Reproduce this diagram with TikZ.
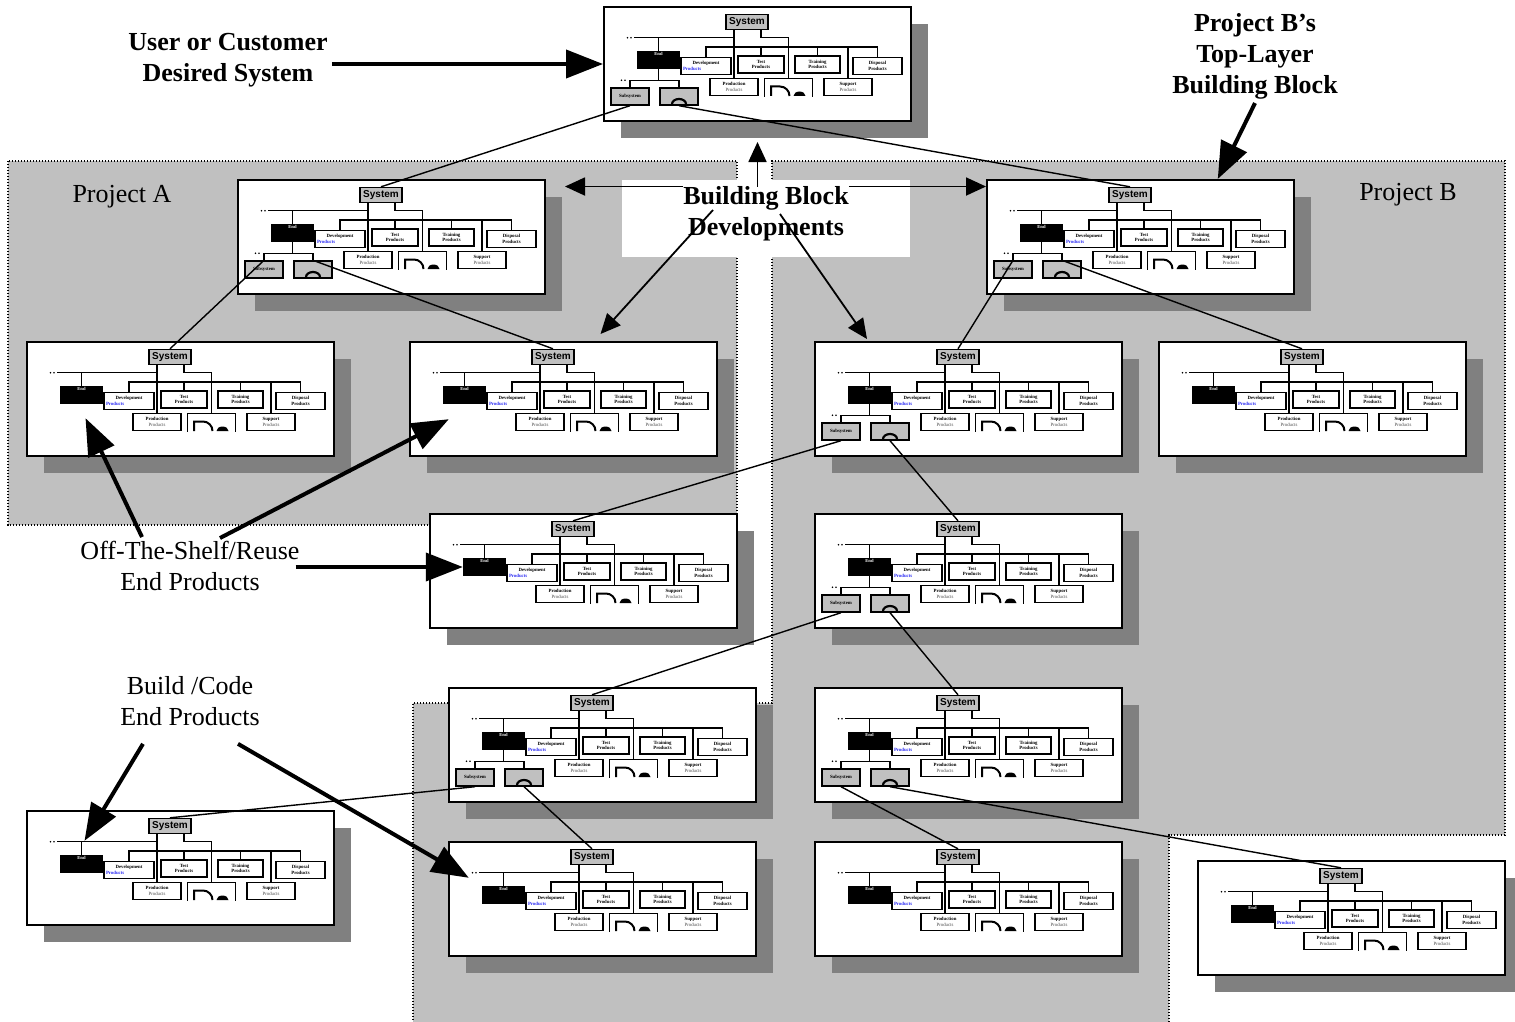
\documentclass[tikz,border=0pt]{standalone}
\usepackage{fontspec}
\setmainfont{Liberation Serif}
\newfontfamily\sysfont{Liberation Sans}
\usepackage{tikz}
\usetikzlibrary{arrows.meta,calc}
\usepackage{xcolor}
\definecolor{regionGray}{HTML}{C0C0C0}
\definecolor{shadowGray}{HTML}{808080}
\definecolor{prodBlue}{HTML}{2A2AF5}

% one building block: name, left, top, subsystems shown (1/0)
\newcommand{\bblock}[4]{%
  \begin{scope}[shift={(#2,#3)}]
    \fill[shadowGray] (17,17) rectangle (324,131);
    \node[bbframe] (#1) at (153.5,57) {};
    \node[sysbox] (#1-sys) at (143,15) {System};
    \node[endbox, label={[endlbl]north:End}] (#1-end) at (54.5,53) {};
    \node[pbox, minimum width=50] (#1-dev) at (102,59)
         {Development\\\makebox[46pt][l]{\color{prodBlue}Products}};
    \node[pbox, minimum width=46] (#1-test) at (157,57.5) {Test\\Products};
    \node[pbox, minimum width=45] (#1-train) at (213.5,57.5) {Training\\Products};
    \node[pbox, minimum width=49] (#1-disp) at (273.5,59) {Disposal\\Products};
    \node[pbox, minimum width=48] (#1-prod) at (130,80)
         {Production\\{\mdseries\color{black!70}Products}};
    \node[pbox, minimum width=48] (#1-supp) at (244,80)
         {Support\\{\mdseries\color{black!70}Products}};
    \node[pbox, draw=none, minimum width=47] (#1-dbox) at (184.5,80.5) {};
    \draw[line width=1.4] (#1-dbox.south west) |- (#1-dbox.north east) -- (#1-dbox.south east);
    \draw[line width=2] (167,89) -- (167,79.5) -- (176,79.5)
         arc[start angle=270, end angle=360, radius=9.5];
    \fill (189.5,89) arc[start angle=180, end angle=360, x radius=6, y radius=4.5] -- cycle;
    % tree lines
    \coordinate (#1-mb) at (30,30.7);
    \coordinate (#1-pb) at (150,40);
    \fill (23.5,30.7) circle (0.9) (27,30.7) circle (0.9);
    \draw[treeline] (#1-mb) -- (#1-mb -| #1-prod.north);
    \draw[treeline] (#1-prod.north |- #1-sys.south) -- (#1-prod.north);
    \draw[treeline] (#1-test.north |- #1-sys.south) |- (#1-mb -| #1-dbox.north) -- (#1-dbox.north);
    \draw[treeline] (#1-end.north) -- (#1-end.north |- #1-mb);
    \draw[treeline] (#1-dev.north) |- (#1-pb) -| (#1-disp.north);
    \foreach \bx in {test,train,supp}
      \draw[treeline] (#1-\bx.north) -- (#1-\bx.north |- #1-pb);
    \ifnum#4=1
      \node[subbox] (#1-sub) at (26,89.5) {Subsystem};
      \node[subbox] (#1-arc) at (75,89.5) {};
      \coordinate (#1-sb) at (50,73.3);
      \fill (17.5,73.3) circle (0.9) (21,73.3) circle (0.9);
      \draw[treeline] (#1-end.south) -- (#1-end.south |- #1-sb);
      \draw[treeline] (#1-sub.north) |- (#1-sb) -| (#1-arc.north);
      \draw[line width=2.2] (68,97) arc[start angle=180, end angle=360, x radius=7, y radius=5];
    \fi
  \end{scope}}

\begin{document}
\begin{tikzpicture}[x=1pt, y=-1pt,
    bbframe/.style={draw, line width=2, fill=white, minimum width=307,
                    minimum height=114, inner sep=0},
    sysbox/.style={draw, line width=1.4, fill=regionGray, minimum width=42,
                   minimum height=15, inner sep=0,
                   font=\sysfont\fontsize{10}{11}\selectfont\bfseries},
    endbox/.style={fill=black, minimum width=43, minimum height=18, inner sep=0},
    endlbl/.style={anchor=north, text=white, inner sep=1.5,
                   font=\fontsize{4.6}{5}\selectfont\bfseries},
    pbox/.style={draw, line width=1.4, fill=white, minimum height=17, inner sep=0,
                 align=center, font=\fontsize{4.8}{5.6}\selectfont\bfseries},
    subbox/.style={draw, line width=1.4, fill=regionGray, minimum width=38,
                   minimum height=17, inner sep=0,
                   font=\fontsize{4.8}{5}\selectfont\bfseries},
    treeline/.style={line width=1.3},
    bblink/.style={line width=1.4},
    area/.style={line width=1.3, dash pattern=on 1.3pt off 1.7pt},
    lbl/.style={font=\fontsize{26}{31}\selectfont, align=center, inner sep=0},
    boldlbl/.style={lbl, font=\fontsize{26}{31}\selectfont\bfseries},
    calloutarrow/.style={line width=4, -{Triangle[length=37pt,width=28pt]}},
    bbarrow/.style={line width=1.8, -{Triangle[length=20pt,width=18pt]}}]

  \useasboundingbox (0,0) rectangle (1515,1022);

  % project areas
  \fill[regionGray] (8,161) rectangle (737,525);
  \fill[regionGray] (772,161) -- (1505,161) -- (1505,835) -- (1169,835)
        -- (1169,1022) -- (413,1022) -- (413,703) -- (772,703) -- cycle;
  \draw[area] (8,161) rectangle (737,525);
  \draw[area] (1169,1022) -- (1169,835) -- (1505,835) -- (1505,161)
        -- (772,161) -- (772,703) -- (413,703) -- (413,1022);
  \fill[white] (622,180) rectangle (910,257);

  % building blocks
  \bblock{T}{604}{7}{1}
  \bblock{A1}{238}{180}{1}
  \bblock{A2}{27}{342}{0}
  \bblock{A3}{410}{342}{0}
  \bblock{B1}{987}{180}{1}
  \bblock{B2}{815}{342}{1}
  \bblock{B3}{1159}{342}{0}
  \bblock{M1}{430}{514}{0}
  \bblock{B4}{815}{514}{1}
  \bblock{C1}{449}{688}{1}
  \bblock{B5}{815}{688}{1}
  \bblock{L1}{27}{811}{0}
  \bblock{C2}{449}{842}{0}
  \bblock{B6}{815}{842}{0}
  \bblock{R1}{1198}{861}{0}

  % subsystem -> next layer
  \draw[bblink] (T-sub.south) -- (A1-sys.north);
  \draw[bblink] (T-arc.south) -- (B1-sys.north);
  \draw[bblink] (A1-sub.north) -- (A2-sys.north);
  \draw[bblink] (A1-arc.north) -- (A3-sys.north);
  \draw[bblink] (B1-sub.north) -- (B2-sys.north);
  \draw[bblink] (B1-arc.north) -- (B3-sys.north);
  \draw[bblink] (B2-sub.south) -- (M1-sys.north);
  \draw[bblink] (B2-arc.south) -- (B4-sys.north);
  \draw[bblink] (B4-sub.south) -- (C1-sys.north);
  \draw[bblink] (B4-arc.south) -- (B5-sys.north);
  \draw[bblink] (C1-sub.south) -- (L1-sys.north);
  \draw[bblink] (C1-arc.south) -- (C2-sys.north);
  \draw[bblink] (B5-sub.south) -- (B6-sys.north);
  \draw[bblink] (B5-arc.south) -- (R1-sys.north);

  % labels
  \node[boldlbl] (user) at (228,60) {User or Customer\\Desired System};
  \node[boldlbl] (pbtop) at (1255,56) {Project B’s\\Top-Layer\\Building Block};
  \node[boldlbl] (bbd) at (766,214) {Building Block\\Developments};
  \node[lbl] (pa) at (122,197) {Project A};
  \node[lbl] (pb) at (1408,195) {Project B};
  \node[lbl] (ots) at (190,566) {Off-The-Shelf/Reuse\\End Products};
  \node[lbl] (bce) at (190,701) {Build /Code\\End Products};

  % arrows
  \draw[calloutarrow] ($(user.east |- T.west)+(4,0)$) -- (T.west);
  \draw[calloutarrow] ($(pbtop.south)+(0,4)$) -- ($(B1.north)!0.5!(B1.north east)$);
  \draw[calloutarrow] ($(ots.north)+(-48,-4)$) -- ($(A2-end.south)+(4,14)$);
  \draw[calloutarrow] ($(ots.north)+(30,-3)$) -- ($(A3-end.south west)+(6,15)$);
  \draw[calloutarrow] ($(ots.east |- M1-end.west)+(-4,0)$) -- (M1-end.west);
  \draw[calloutarrow] ($(bce.south)+(-47,18)$) -- ($(L1-end.north)+(3,-14)$);
  \draw[calloutarrow] ($(bce.south)+(48,18)$) -- ($(C2-end.north west)+(-13,-8)$);
  \draw[bbarrow] (bbd.north -| T.south) -- ($(T.south)+(0,20)$);
  \draw[bbarrow] (bbd.north west) -- ($(bbd.north west -| A1.east)+(19,0)$);
  \draw[bbarrow] (bbd.north east) -- (bbd.north east -| B1.west);
  \draw[bbarrow] ($(bbd.center)+(-53,-4)$) -- ($(A3.north)+(37,-7)$);
  \draw[bbarrow] ($(bbd.center)+(14,0)$) -- ($(B2.north west)+(53,-2)$);
\end{tikzpicture}
\end{document}
